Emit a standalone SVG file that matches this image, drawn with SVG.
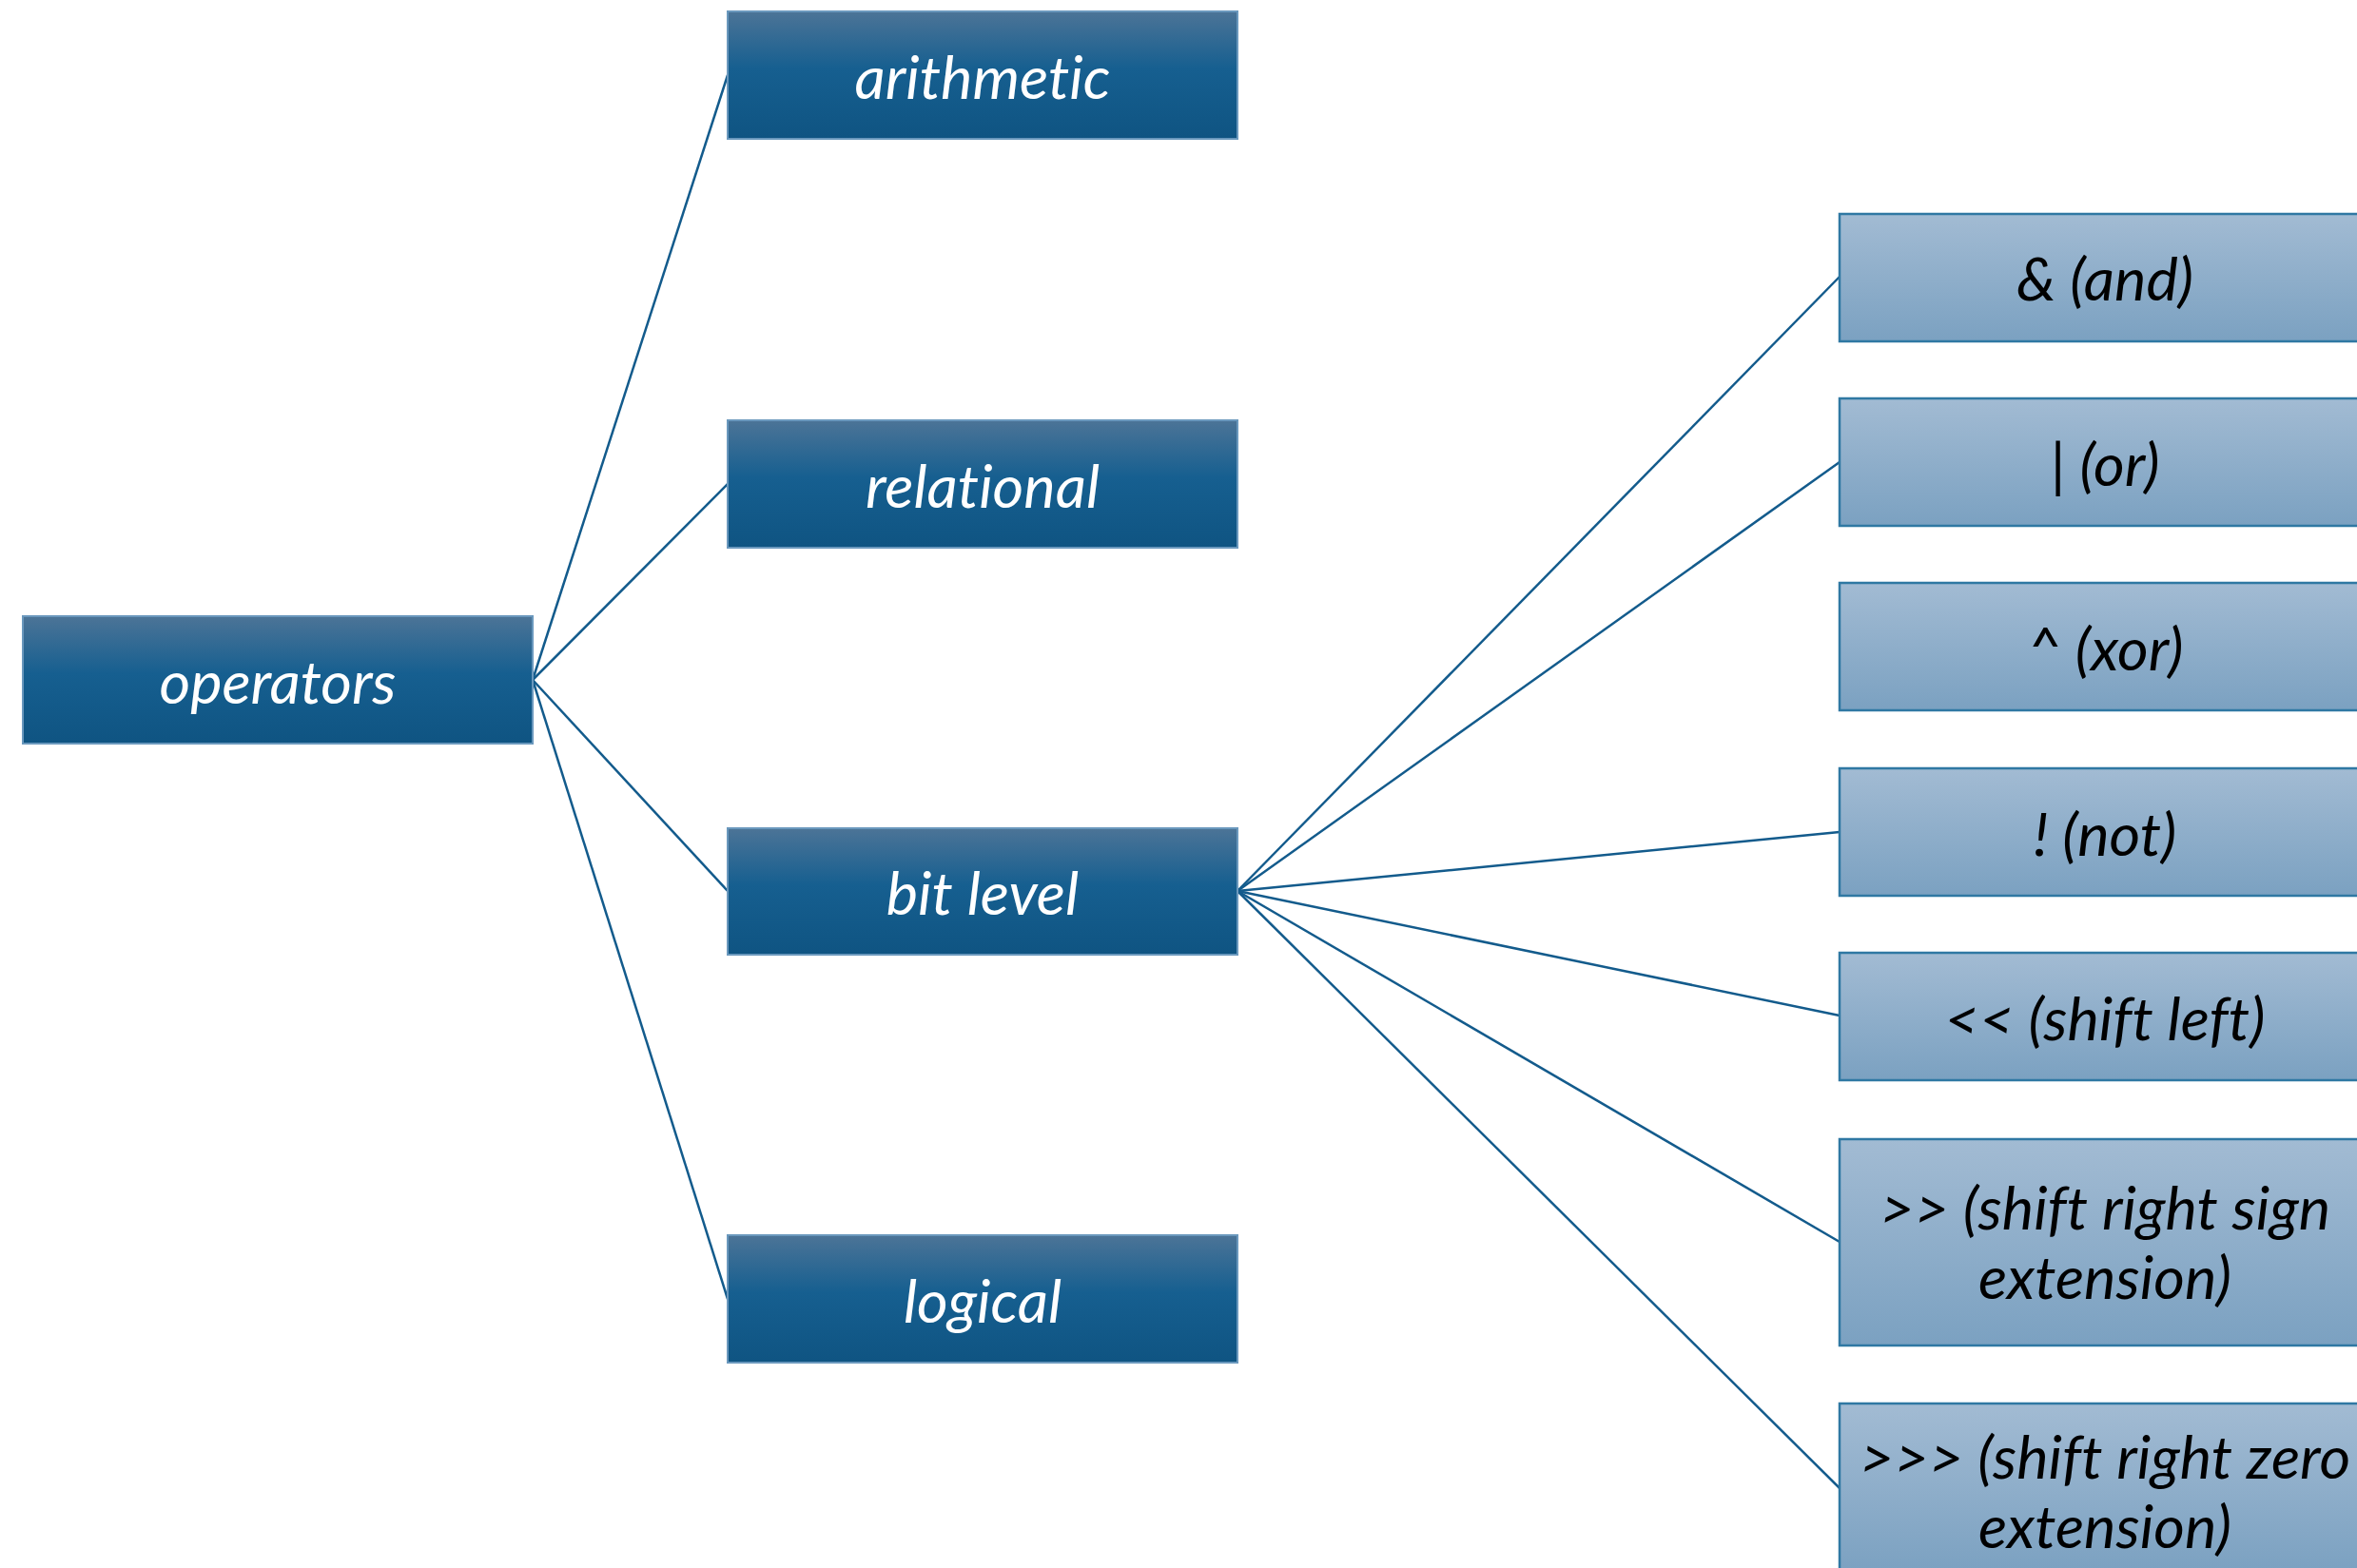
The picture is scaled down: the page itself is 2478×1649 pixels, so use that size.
<svg xmlns="http://www.w3.org/2000/svg" width="2478" height="1649" viewBox="0 0 2478 1649">
<style>
.dark{fill:url(#gd);stroke:#6a98bd;stroke-width:2}
.light{fill:url(#gl);stroke:#2f78a3;stroke-width:2.5}
.tw{font-family:Lato,"Liberation Sans",sans-serif;font-style:italic;font-size:63px;fill:#ffffff;text-anchor:middle;font-variant-ligatures:none}
.tb{font-family:Lato,"Liberation Sans",sans-serif;font-style:italic;font-size:63px;fill:#000000;text-anchor:middle;font-variant-ligatures:none}
.conn line{stroke:#135b8c;stroke-width:2.5}
</style>
<defs>
<linearGradient id="gd" x1="0" y1="0" x2="0" y2="1">
<stop offset="0" stop-color="#4c7497"/>
<stop offset="0.45" stop-color="#165f90"/>
<stop offset="1" stop-color="#0f5482"/>
</linearGradient>
<linearGradient id="gl" x1="0" y1="0" x2="0" y2="1">
<stop offset="0" stop-color="#a2bbd3"/>
<stop offset="1" stop-color="#7ba1c1"/>
</linearGradient>
</defs>
<rect width="2478" height="1649" fill="#ffffff"/>
<g id="connectors" class="conn">
<line x1="560" y1="715" x2="765" y2="79"/>
<line x1="560" y1="715" x2="765" y2="509"/>
<line x1="560" y1="715" x2="765" y2="937"/>
<line x1="560" y1="715" x2="765" y2="1366"/>
<line x1="1301" y1="937" x2="1934" y2="291"/>
<line x1="1301" y1="937" x2="1934" y2="486"/>
<line x1="1301" y1="937" x2="1934" y2="875"/>
<line x1="1301" y1="937" x2="1934" y2="1068"/>
<line x1="1301" y1="937" x2="1934" y2="1306"/>
<line x1="1301" y1="937" x2="1934" y2="1565"/>
</g>
<g id="operators"><rect class="dark" x="24" y="648" width="536" height="134"/><text class="tw" x="292" y="740">operators</text></g>
<g id="arithmetic"><rect class="dark" x="765" y="12" width="536" height="134"/><text class="tw" x="1033" y="104">arithmetic</text></g>
<g id="relational"><rect class="dark" x="765" y="442" width="536" height="134"/><text class="tw" x="1033" y="534">relational</text></g>
<g id="bitlevel"><rect class="dark" x="765" y="871" width="536" height="133"/><text class="tw" x="1033" y="962">bit level</text></g>
<g id="logical"><rect class="dark" x="765" y="1299" width="536" height="134"/><text class="tw" x="1033" y="1391">logical</text></g>
<g id="and"><rect class="light" x="1934" y="225" width="560" height="134"/><text class="tb" x="2213" y="316">&amp; (and)</text></g>
<g id="or"><rect class="light" x="1934" y="419" width="560" height="134"/><text class="tb" x="2213" y="511">| (or)</text></g>
<g id="xor"><rect class="light" x="1934" y="613" width="560" height="134"/><text class="tb" x="2213" y="705">^ (xor)</text></g>
<g id="not"><rect class="light" x="1934" y="808" width="560" height="134"/><text class="tb" x="2213" y="900">! (not)</text></g>
<g id="shiftleft"><rect class="light" x="1934" y="1002" width="560" height="134"/><text class="tb" x="2213" y="1094">&lt;&lt; (shift left)</text></g>
<g id="shiftrightsign"><rect class="light" x="1934" y="1198" width="560" height="217"/><text class="tb" x="2213" y="1293">&gt;&gt; (shift right sign</text><text class="tb" x="2213" y="1366">extension)</text></g>
<g id="shiftrightzero"><rect class="light" x="1934" y="1476" width="560" height="178"/><text class="tb" x="2213" y="1555">&gt;&gt;&gt; (shift right zero</text><text class="tb" x="2213" y="1628">extension)</text></g>
</svg>
